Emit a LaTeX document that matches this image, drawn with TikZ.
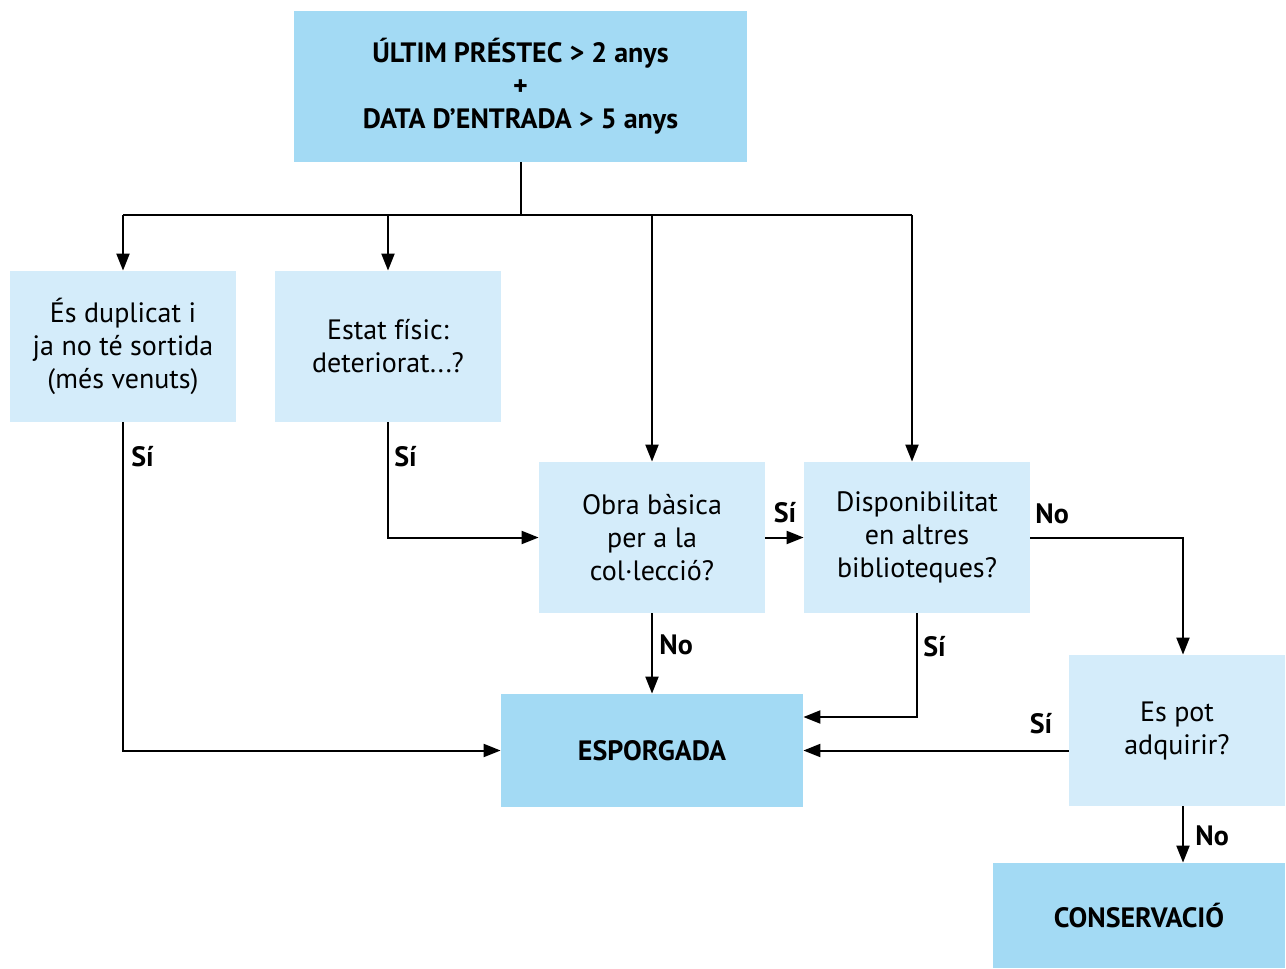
\documentclass[tikz,border=0pt]{standalone}
\usepackage{fontspec}
\setmainfont{PT Sans}
\usetikzlibrary{arrows.meta,calc}
\definecolor{darkbox}{RGB}{163,218,244}
\definecolor{lightbox}{RGB}{212,236,250}
\begin{document}
\begin{tikzpicture}[x=0.5pt,y=-0.5pt,
  box/.style={rectangle,inner sep=0pt,align=center,font=\fontsize{14}{16.5}\selectfont},
  darkb/.style={box,fill=darkbox,font=\fontsize{14}{16.5}\selectfont\bfseries},
  lightb/.style={box,fill=lightbox},
  conn/.style={line width=1pt,-{Triangle[length=8.5pt,width=6.5pt]}},
  plain/.style={line width=1pt},
  lab/.style={font=\fontsize{14}{16}\selectfont\bfseries,inner sep=0pt}]
\useasboundingbox (0,0) rectangle (1286,969);
\node[darkb,minimum width=226.5pt,minimum height=75.5pt] (top) at (520.5,86.5) {ÚLTIM PRÉSTEC > 2 anys\\+\\DATA D’ENTRADA > 5 anys};
\node[lightb,minimum width=113pt,minimum height=75.5pt] (b1) at (123,346.5) {És duplicat i\\ja no té sortida\\(més venuts)};
\node[lightb,minimum width=113pt,minimum height=75.5pt] (b2) at (388,346.5) {Estat físic:\\deteriorat...?};
\node[lightb,minimum width=113pt,minimum height=75.5pt] (b3) at (652,537.5) {Obra bàsica\\per a la\\col·lecció?};
\node[lightb,minimum width=113pt,minimum height=75.5pt] (b4) at (917,537.5) {Disponibilitat\\en altres\\biblioteques?};
\node[darkb,minimum width=151pt,minimum height=56.5pt] (esp) at (652,750.5) {ESPORGADA};
\node[lightb,minimum width=108pt,minimum height=75.5pt] (adq) at (1177,730.5) {Es pot\\adquirir?};
\node[darkb,minimum width=146pt,minimum height=52.5pt] (cons) at (1139,915.5) {CONSERVACIÓ};
% trunk
\coordinate (split) at (520.5,215);
\coordinate (tl) at (123,215);
\coordinate (tr) at (912,215);
\coordinate (t2) at (388,215);
\coordinate (t3) at (652,215);
\draw[plain] (top.south) -- (split);
\draw[plain] (tl) -- (tr);
\draw[conn] (tl) -- (b1.north);
\draw[conn] (t2) -- (b2.north);
\draw[conn] (t3) -- (b3.north);
\draw[conn] (tr) -- (tr |- b4.north);
% b1 -> esp
\coordinate (c1) at (123,750.5);
\draw[conn] (b1.south) -- (c1) -- (esp.west);
\node[lab,anchor=west] (l1) at (131,457) {Sí};
% b2 -> b3
\coordinate (c2) at (388,537.5);
\draw[conn] (b2.south) -- (c2) -- (b3.west);
\node[lab,anchor=west] (l2) at (394,457) {Sí};
% b3 -> b4
\draw[conn] (b3.east) -- (b4.west);
\node[lab] (l3) at (785,513) {Sí};
% b3 -> esp
\draw[conn] (b3.south) -- (esp.north);
\node[lab,anchor=west] (l4) at (659,645) {No};
% b4 -> esp
\coordinate (c4) at (917,717);
\draw[conn] (b4.south) -- (c4) -- (c4 -| esp.east);
\node[lab,anchor=west] (l5) at (923,647) {Sí};
% b4 -> adq
\coordinate (c5) at (1183,537.5);
\draw[conn] (b4.east) -- (c5) -- (c5 |- adq.north);
\node[lab,anchor=west] (l6) at (1035,514) {No};
% adq -> esp
\draw[conn] (adq.west |- esp.east) -- (esp.east);
\node[lab] (l7) at (1041,724) {Sí};
% adq -> cons
\coordinate (c6) at (1183,806);
\draw[conn] (c6) -- (c6 |- cons.north);
\node[lab,anchor=west] (l8) at (1195,836) {No};
\end{tikzpicture}
\end{document}
